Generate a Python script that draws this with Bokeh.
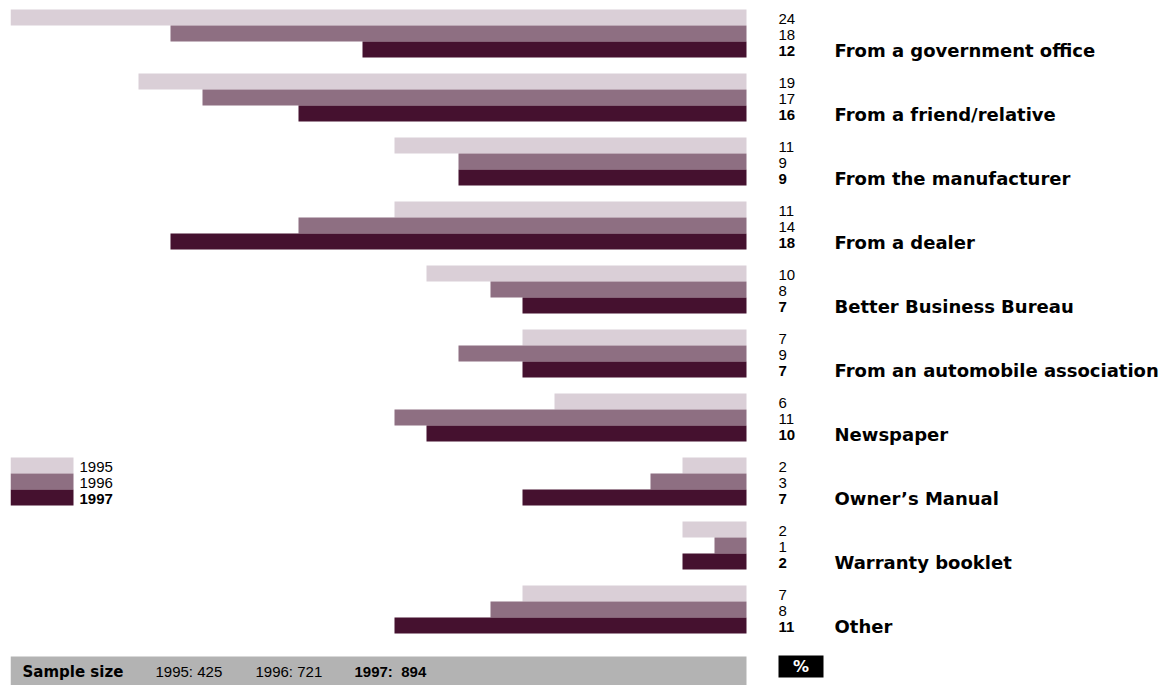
from bokeh.plotting import figure
from bokeh.models import Range1d, ColumnDataSource
from bokeh.core.properties import value
from bokeh.embed import file_html
from bokeh.resources import INLINE

# ---- data ----
categories = ["From a government office", "From a friend/relative", "From the manufacturer",
              "From a dealer", "Better Business Bureau", "From an automobile association",
              "Newspaper", "Owner\u2019s Manual", "Warranty booklet", "Other"]
years = ["1995", "1996", "1997"]
# bar lengths as drawn
v1995 = [24, 19, 11, 11, 10, 7, 6, 2, 2, 7]
v1996 = [18, 17, 9, 14, 8, 9, 11, 3, 1, 8]
v1997 = [12, 14, 9, 18, 7, 7, 10, 7, 2, 11]
# printed value labels
lab1995 = ["24", "19", "11", "11", "10", "7", "6", "2", "2", "7"]
lab1996 = ["18", "17", "9", "14", "8", "9", "11", "3", "1", "8"]
lab1997 = ["12", "16", "9", "18", "7", "7", "10", "7", "2", "11"]
sample_sizes = [425, 721, 894]
colors = ["#dacfd7", "#8e6f82", "#45112f"]

# ---- layout helpers (pixel layout -> data) ----
W, H = 1175, 685
ZERO_PX = 746.0
PX_PER_UNIT = 32.0
LEFT_PX = 10


def xd(px):
    return (ZERO_PX - px) / PX_PER_UNIT


GROUP_TOP = 9
GROUP_STEP = 64
BAR_H = 16
TXT_OFF = 1

p = figure(width=W, height=H, output_backend="svg", toolbar_location=None,
           x_axis_type=None, y_axis_type=None,
           min_border_left=LEFT_PX, min_border_right=0, min_border_top=0, min_border_bottom=0,
           x_range=Range1d(xd(LEFT_PX), xd(W)), y_range=Range1d(H, 0))
p.outline_line_color = None
p.xgrid.visible = False
p.ygrid.visible = False
p.background_fill_color = "white"
p.border_fill_color = "white"

series = [v1995, v1996, v1997]
labels = [lab1995, lab1996, lab1997]
for j, vals in enumerate(series):
    ys = [GROUP_TOP + GROUP_STEP * i + BAR_H * j + BAR_H / 2 for i in range(len(categories))]
    src = ColumnDataSource(dict(y=ys, v=vals, txt=labels[j],
                                ty=[y + TXT_OFF for y in ys]))
    p.hbar(y="y", left="v", right=0, height=BAR_H, source=src,
           fill_color=colors[j], line_color=None)
    p.text(x=xd(778), y="ty", text="txt", source=src,
           text_font=value("Liberation Sans"), text_font_size="15px",
           text_font_style="bold" if j == 2 else "normal",
           text_color="black", text_align="left", text_baseline="alphabetic")

# category labels
lab_y = [GROUP_TOP + GROUP_STEP * i + BAR_H * 2 + BAR_H / 2 + TXT_OFF for i in range(len(categories))]
p.text(x=[xd(834)] * len(categories), y=lab_y, text=categories,
       text_font=value("DejaVu Sans"), text_font_size="18px", text_font_style="bold",
       text_color="black", text_align="left", text_baseline="alphabetic")

# legend (in the Owner's Manual row)
leg_top = GROUP_TOP + GROUP_STEP * 7
for j, yr in enumerate(years):
    yc = leg_top + BAR_H * j + BAR_H / 2
    p.quad(left=xd(10), right=xd(73), top=yc - BAR_H / 2, bottom=yc + BAR_H / 2,
           fill_color=colors[j], line_color=None)
    p.text(x=[xd(79)], y=[yc + TXT_OFF], text=[yr],
           text_font=value("Liberation Sans"), text_font_size="15px",
           text_font_style="bold" if j == 2 else "normal",
           text_color="black", text_align="left", text_baseline="alphabetic")

# sample size bar
p.quad(left=xd(10), right=xd(746), top=656, bottom=H, fill_color="#b3b3b3", line_color=None)
p.text(x=[xd(22)], y=[671], text=["Sample size"],
       text_font=value("DejaVu Sans"), text_font_size="15px", text_font_style="bold",
       text_color="black", text_align="left", text_baseline="alphabetic")
sx = [155, 255, 354]
for j, yr in enumerate(years):
    txt = f"{yr}: {sample_sizes[j]}" if j < 2 else f"{yr}:\u00a0 {sample_sizes[j]}"
    p.text(x=[xd(sx[j])], y=[671], text=[txt],
           text_font=value("Liberation Sans"), text_font_size="15px",
           text_font_style="bold" if j == 2 else "normal",
           text_color="black", text_align="left", text_baseline="alphabetic")

# % box
p.quad(left=xd(778), right=xd(823), top=655, bottom=677, fill_color="black", line_color=None)
p.text(x=[xd(800.5)], y=[666], text=["%"],
       text_font=value("DejaVu Sans"), text_font_size="16px", text_font_style="bold",
       text_color="white", text_align="center", text_baseline="middle")

open("out.html", "w").write(file_html(p, INLINE))
